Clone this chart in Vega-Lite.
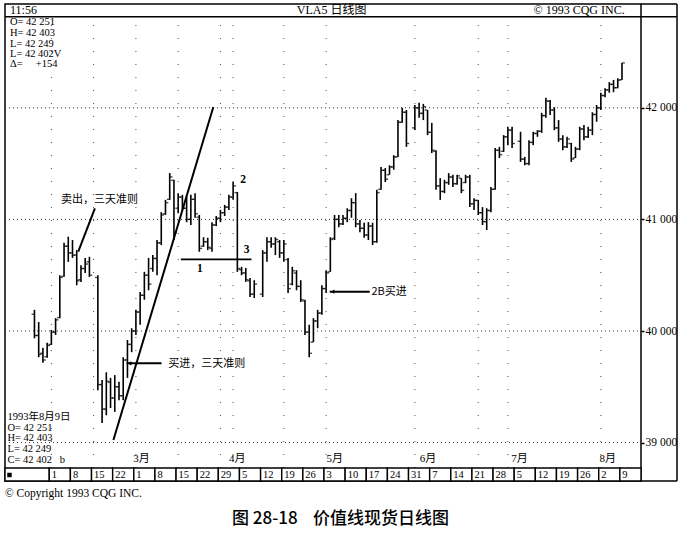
{
  "$schema": "https://vega.github.io/schema/vega-lite/v6.json",
  "autosize": {"type": "none"},
  "padding": {"left": 5, "top": 4, "right": 43, "bottom": 56},
  "width": 636,
  "height": 477,
  "background": "white",
  "config": {"view": {"stroke": "black", "strokeWidth": 1.5}},
  "datasets": {
    "bars": [
      {"i":-4,"o":40150,"h":40190,"l":39935,"c":39960},
      {"i":-3,"o":39960,"h":40080,"l":39765,"c":39790},
      {"i":-2,"o":39800,"h":39850,"l":39715,"c":39740},
      {"i":-1,"o":39770,"h":39895,"l":39760,"c":39870},
      {"i":0,"o":39880,"h":40010,"l":39875,"c":39990},
      {"i":1,"o":39990,"h":40115,"l":39965,"c":40100},
      {"i":2,"o":40120,"h":40500,"l":40115,"c":40480},
      {"i":3,"o":40490,"h":40790,"l":40485,"c":40760},
      {"i":4,"o":40760,"h":40845,"l":40620,"c":40700},
      {"i":5,"o":40700,"h":40815,"l":40655,"c":40680},
      {"i":6,"o":40680,"h":40725,"l":40410,"c":40450},
      {"i":7,"o":40460,"h":40590,"l":40440,"c":40560},
      {"i":8,"o":40560,"h":40655,"l":40520,"c":40600},
      {"i":9,"o":40620,"h":40665,"l":40485,"c":40500},
      {"i":11,"o":40480,"h":40500,"l":39470,"c":39520},
      {"i":12,"o":39520,"h":39560,"l":39175,"c":39300},
      {"i":13,"o":39300,"h":39630,"l":39245,"c":39550},
      {"i":14,"o":39540,"h":39580,"l":39310,"c":39400},
      {"i":15,"o":39400,"h":39605,"l":39275,"c":39500},
      {"i":16,"o":39500,"h":39545,"l":39380,"c":39420},
      {"i":17,"o":39420,"h":39765,"l":39380,"c":39740},
      {"i":18,"o":39740,"h":39920,"l":39580,"c":39880},
      {"i":19,"o":39880,"h":40025,"l":39810,"c":40000},
      {"i":20,"o":40000,"h":40190,"l":39965,"c":40170},
      {"i":21,"o":40170,"h":40350,"l":40055,"c":40320},
      {"i":22,"o":40320,"h":40530,"l":40280,"c":40500},
      {"i":23,"o":40500,"h":40655,"l":40365,"c":40420},
      {"i":24,"o":40560,"h":40680,"l":40530,"c":40650},
      {"i":25,"o":40650,"h":40815,"l":40500,"c":40790},
      {"i":26,"o":40790,"h":41065,"l":40770,"c":41040},
      {"i":27,"o":41050,"h":41175,"l":41040,"c":41150},
      {"i":28,"o":41180,"h":41415,"l":41175,"c":41380},
      {"i":29,"o":41350,"h":41355,"l":40815,"c":40880},
      {"i":30,"o":41100,"h":41235,"l":41055,"c":41200},
      {"i":31,"o":41200,"h":41220,"l":41085,"c":41100},
      {"i":32,"o":41100,"h":41200,"l":40975,"c":41000},
      {"i":33,"o":41000,"h":41220,"l":40950,"c":41180},
      {"i":34,"o":41180,"h":41235,"l":41015,"c":41050},
      {"i":35,"o":41020,"h":41040,"l":40710,"c":40740},
      {"i":36,"o":40760,"h":40840,"l":40755,"c":40800},
      {"i":37,"o":40800,"h":40835,"l":40725,"c":40750},
      {"i":38,"o":40740,"h":40975,"l":40710,"c":40950},
      {"i":39,"o":40950,"h":41030,"l":40940,"c":41010},
      {"i":40,"o":41010,"h":41085,"l":40975,"c":41060},
      {"i":41,"o":41060,"h":41130,"l":41030,"c":41110},
      {"i":42,"o":41110,"h":41220,"l":41085,"c":41200},
      {"i":43,"o":41200,"h":41335,"l":41175,"c":41300},
      {"i":44,"o":41240,"h":41245,"l":40530,"c":40560},
      {"i":45,"o":40550,"h":40575,"l":40500,"c":40520},
      {"i":46,"o":40520,"h":40565,"l":40440,"c":40460},
      {"i":47,"o":40450,"h":40475,"l":40305,"c":40330},
      {"i":48,"o":40330,"h":40455,"l":40295,"c":40420},
      {"i":50,"o":40330,"h":40725,"l":40305,"c":40700},
      {"i":51,"o":40700,"h":40840,"l":40620,"c":40800},
      {"i":52,"o":40800,"h":40840,"l":40745,"c":40780},
      {"i":53,"o":40780,"h":40840,"l":40680,"c":40820},
      {"i":54,"o":40800,"h":40815,"l":40655,"c":40700},
      {"i":55,"o":40700,"h":40815,"l":40620,"c":40780},
      {"i":56,"o":40640,"h":40655,"l":40340,"c":40380},
      {"i":57,"o":40420,"h":40575,"l":40410,"c":40540},
      {"i":58,"o":40520,"h":40545,"l":40365,"c":40400},
      {"i":59,"o":40400,"h":40455,"l":40260,"c":40280},
      {"i":60,"o":40270,"h":40280,"l":39965,"c":39990},
      {"i":61,"o":39990,"h":40055,"l":39765,"c":39800},
      {"i":62,"o":39900,"h":40115,"l":39900,"c":40090},
      {"i":63,"o":40090,"h":40190,"l":40025,"c":40160},
      {"i":64,"o":40160,"h":40410,"l":40145,"c":40380},
      {"i":65,"o":40380,"h":40545,"l":40340,"c":40520},
      {"i":66,"o":40530,"h":40840,"l":40530,"c":40820},
      {"i":67,"o":40830,"h":41040,"l":40815,"c":41000},
      {"i":68,"o":41000,"h":41040,"l":40930,"c":40960},
      {"i":69,"o":40960,"h":41040,"l":40950,"c":41010},
      {"i":70,"o":41010,"h":41100,"l":40975,"c":41080},
      {"i":71,"o":41080,"h":41190,"l":41015,"c":41150},
      {"i":72,"o":41150,"h":41235,"l":40930,"c":40960},
      {"i":73,"o":40960,"h":40995,"l":40885,"c":40920},
      {"i":74,"o":40920,"h":40970,"l":40835,"c":40860},
      {"i":75,"o":40860,"h":40975,"l":40815,"c":40940},
      {"i":76,"o":40940,"h":40970,"l":40770,"c":40800},
      {"i":77,"o":40800,"h":41265,"l":40790,"c":41240},
      {"i":78,"o":41270,"h":41470,"l":41265,"c":41440},
      {"i":79,"o":41440,"h":41460,"l":41335,"c":41360},
      {"i":80,"o":41400,"h":41485,"l":41400,"c":41470},
      {"i":81,"o":41470,"h":41575,"l":41445,"c":41560},
      {"i":82,"o":41560,"h":41890,"l":41560,"c":41870},
      {"i":83,"o":41870,"h":42000,"l":41865,"c":41960},
      {"i":84,"o":41960,"h":41980,"l":41650,"c":41680},
      {"i":86,"o":41820,"h":42025,"l":41800,"c":42000},
      {"i":87,"o":42000,"h":42045,"l":41910,"c":41950},
      {"i":88,"o":41950,"h":42035,"l":41890,"c":42010},
      {"i":89,"o":41980,"h":41980,"l":41755,"c":41780},
      {"i":90,"o":41780,"h":41865,"l":41595,"c":41620},
      {"i":91,"o":41610,"h":41620,"l":41265,"c":41300},
      {"i":92,"o":41300,"h":41370,"l":41175,"c":41250},
      {"i":93,"o":41250,"h":41355,"l":41235,"c":41330},
      {"i":94,"o":41330,"h":41415,"l":41310,"c":41380},
      {"i":95,"o":41380,"h":41400,"l":41290,"c":41320},
      {"i":96,"o":41320,"h":41400,"l":41310,"c":41390},
      {"i":97,"o":41370,"h":41370,"l":41235,"c":41260},
      {"i":98,"o":41330,"h":41400,"l":41325,"c":41380},
      {"i":99,"o":41380,"h":41400,"l":41110,"c":41140},
      {"i":100,"o":41140,"h":41190,"l":41085,"c":41170},
      {"i":101,"o":41170,"h":41175,"l":41040,"c":41060},
      {"i":102,"o":41060,"h":41110,"l":40950,"c":40980},
      {"i":103,"o":40980,"h":41100,"l":40905,"c":41080},
      {"i":104,"o":41080,"h":41290,"l":41065,"c":41270},
      {"i":105,"o":41270,"h":41640,"l":41265,"c":41620},
      {"i":106,"o":41620,"h":41650,"l":41550,"c":41580},
      {"i":107,"o":41610,"h":41755,"l":41605,"c":41740},
      {"i":108,"o":41740,"h":41830,"l":41665,"c":41800},
      {"i":109,"o":41800,"h":41830,"l":41640,"c":41680},
      {"i":111,"o":41700,"h":41785,"l":41515,"c":41540},
      {"i":112,"o":41540,"h":41560,"l":41485,"c":41500},
      {"i":113,"o":41500,"h":41710,"l":41485,"c":41690},
      {"i":114,"o":41690,"h":41785,"l":41665,"c":41770},
      {"i":115,"o":41770,"h":41800,"l":41740,"c":41790},
      {"i":116,"o":41790,"h":41955,"l":41775,"c":41930},
      {"i":117,"o":41930,"h":42090,"l":41910,"c":42060},
      {"i":118,"o":42060,"h":42070,"l":41935,"c":41980},
      {"i":119,"o":41980,"h":42005,"l":41800,"c":41820},
      {"i":120,"o":41820,"h":41890,"l":41695,"c":41720},
      {"i":121,"o":41720,"h":41755,"l":41620,"c":41650},
      {"i":122,"o":41650,"h":41740,"l":41640,"c":41720},
      {"i":123,"o":41680,"h":41685,"l":41515,"c":41540},
      {"i":124,"o":41550,"h":41650,"l":41550,"c":41630},
      {"i":125,"o":41630,"h":41830,"l":41620,"c":41810},
      {"i":126,"o":41810,"h":41845,"l":41710,"c":41740},
      {"i":127,"o":41740,"h":41830,"l":41730,"c":41800},
      {"i":128,"o":41800,"h":41960,"l":41755,"c":41940},
      {"i":129,"o":41940,"h":42025,"l":41875,"c":42000},
      {"i":130,"o":42000,"h":42135,"l":41980,"c":42110},
      {"i":131,"o":42110,"h":42175,"l":42095,"c":42160},
      {"i":132,"o":42160,"h":42230,"l":42135,"c":42210},
      {"i":133,"o":42210,"h":42250,"l":42140,"c":42180},
      {"i":134,"o":42180,"h":42265,"l":42175,"c":42248},
      {"i":135,"o":42251,"h":42403,"l":42249,"c":42402}
    ],
    "weeks": [
      {"s":-10.97,"e":-0.5,"lab":""},
      {"s":-0.5,"e":4.5,"lab":"1"},
      {"s":4.5,"e":9.5,"lab":"8"},
      {"s":9.5,"e":14.5,"lab":"15"},
      {"s":14.5,"e":19.5,"lab":"22"},
      {"s":19.5,"e":24.5,"lab":"1"},
      {"s":24.5,"e":29.5,"lab":"8"},
      {"s":29.5,"e":34.5,"lab":"15"},
      {"s":34.5,"e":39.5,"lab":"22"},
      {"s":39.5,"e":44.5,"lab":"29"},
      {"s":44.5,"e":49.5,"lab":"5"},
      {"s":49.5,"e":54.5,"lab":"12"},
      {"s":54.5,"e":59.5,"lab":"19"},
      {"s":59.5,"e":64.5,"lab":"26"},
      {"s":64.5,"e":69.5,"lab":"3"},
      {"s":69.5,"e":74.5,"lab":"10"},
      {"s":74.5,"e":79.5,"lab":"17"},
      {"s":79.5,"e":84.5,"lab":"24"},
      {"s":84.5,"e":89.5,"lab":"31"},
      {"s":89.5,"e":94.5,"lab":"7"},
      {"s":94.5,"e":99.5,"lab":"14"},
      {"s":99.5,"e":104.5,"lab":"21"},
      {"s":104.5,"e":109.5,"lab":"28"},
      {"s":109.5,"e":114.5,"lab":"5"},
      {"s":114.5,"e":119.5,"lab":"12"},
      {"s":119.5,"e":124.5,"lab":"19"},
      {"s":124.5,"e":129.5,"lab":"26"},
      {"s":129.5,"e":134.5,"lab":"2"},
      {"s":134.5,"e":139.5,"lab":"9"}
    ]
  },
  "layer": [
    {
      "data": {"values": [{"v":39000},{"v":40000},{"v":41000},{"v":42000}]},
      "mark": {"type": "rule", "strokeDash": [1, 3], "color": "#333", "strokeWidth": 1},
      "encoding": {
        "x": {"datum": -10.97, "type": "quantitative", "scale": {"domain": [-10.97, 139.5], "zero": false, "nice": false}, "axis": null},
        "x2": {"datum": 139.5},
        "y": {"field": "v", "type": "quantitative", "scale": {"domain": [38656, 42930], "zero": false, "nice": false},
          "axis": {"orient": "right", "values": [39000, 40000, 41000, 42000],
            "labelExpr": "replace(format(datum.value, ','), ',', ' ')", "domain": false, "ticks": true, "tickSize": 3, "tickWidth": 1.5,
            "tickColor": "black", "labelPadding": 1, "labelFont": "Liberation Serif", "labelFontSize": 11.5,
            "labelColor": "black", "grid": false, "title": null}}
      }
    },
    {
      "data": {"values": [{"i":0},{"i":10},{"i":20},{"i":30},{"i":40},{"i":43},{"i":55},{"i":65},{"i":86},{"i":101},{"i":108},{"i":130}]},
      "mark": {"type": "rule", "strokeDash": [1, 12], "color": "#444", "strokeWidth": 1},
      "encoding": {
        "x": {"field": "i", "type": "quantitative", "scale": {"domain": [-10.97, 139.5], "zero": false, "nice": false}, "axis": null},
        "y": {"datum": 38772, "type": "quantitative", "scale": {"domain": [38656, 42930], "zero": false, "nice": false}, "title": null},
        "y2": {"datum": 42816}
      }
    },
    {
      "data": {"name": "bars"},
      "mark": {"type": "rule", "color": "black", "strokeWidth": 1.6},
      "encoding": {
        "x": {"field": "i", "type": "quantitative", "scale": {"domain": [-10.97, 139.5], "zero": false, "nice": false}, "axis": null},
        "y": {"field": "h", "type": "quantitative", "scale": {"domain": [38656, 42930], "zero": false, "nice": false}, "title": null},
        "y2": {"field": "l"}
      }
    },
    {
      "data": {"name": "bars"},
      "mark": {"type": "tick", "orient": "horizontal", "size": 2.5, "thickness": 1.4, "xOffset": -1.6, "color": "black"},
      "encoding": {
        "x": {"field": "i", "type": "quantitative", "scale": {"domain": [-10.97, 139.5], "zero": false, "nice": false}, "axis": null},
        "y": {"field": "o", "type": "quantitative", "scale": {"domain": [38656, 42930], "zero": false, "nice": false}, "title": null}
      }
    },
    {
      "data": {"name": "bars"},
      "mark": {"type": "tick", "orient": "horizontal", "size": 2.5, "thickness": 1.4, "xOffset": 1.6, "color": "black"},
      "encoding": {
        "x": {"field": "i", "type": "quantitative", "scale": {"domain": [-10.97, 139.5], "zero": false, "nice": false}, "axis": null},
        "y": {"field": "c", "type": "quantitative", "scale": {"domain": [38656, 42930], "zero": false, "nice": false}, "title": null}
      }
    },
    {
      "data": {"name": "weeks"},
      "mark": {"type": "rect", "fill": "white", "stroke": "black", "strokeWidth": 1.4},
      "encoding": {
        "x": {"field": "s", "type": "quantitative", "scale": {"domain": [-10.97, 139.5], "zero": false, "nice": false}, "axis": null},
        "x2": {"field": "e"},
        "y": {"datum": 38656, "type": "quantitative", "scale": {"domain": [38656, 42930], "zero": false, "nice": false}, "title": null},
        "y2": {"datum": 38772}
      }
    },
    {
      "data": {"name": "weeks"},
      "mark": {"type": "text", "align": "left", "baseline": "alphabetic", "dx": 2.5, "font": "Liberation Serif", "fontSize": 10.5, "color": "black"},
      "encoding": {
        "x": {"field": "s", "type": "quantitative", "scale": {"domain": [-10.97, 139.5], "zero": false, "nice": false}, "axis": null},
        "y": {"datum": 38683, "type": "quantitative", "scale": {"domain": [38656, 42930], "zero": false, "nice": false}, "title": null},
        "text": {"field": "lab"}
      }
    },
    {
      "data": {"values": [{"x": -9.91, "y": 38710}]},
      "mark": {"type": "point", "shape": "square", "size": 20, "filled": true, "color": "black", "opacity": 1},
      "encoding": {
        "x": {"field": "x", "type": "quantitative", "scale": {"domain": [-10.97, 139.5], "zero": false, "nice": false}, "axis": null},
        "y": {"field": "y", "type": "quantitative", "scale": {"domain": [38656, 42930], "zero": false, "nice": false}, "title": null}
      }
    },
    {
      "data": {"values": [
        {"x": -10.97, "x2": 148.02, "y": 42816, "y2": 42816},
        {"x": 139.5, "x2": 148.02, "y": 42930, "y2": 42930},
        {"x": 139.5, "x2": 148.02, "y": 38656, "y2": 38656},
        {"x": 148.02, "x2": 148.02, "y": 38656, "y2": 42930}
      ]},
      "mark": {"type": "rule", "color": "black", "strokeWidth": 1.5},
      "encoding": {
        "x": {"field": "x", "type": "quantitative", "scale": {"domain": [-10.97, 139.5], "zero": false, "nice": false}, "axis": null},
        "x2": {"field": "x2"},
        "y": {"field": "y", "type": "quantitative", "scale": {"domain": [38656, 42930], "zero": false, "nice": false}, "title": null},
        "y2": {"field": "y2"}
      }
    },
    {
      "data": {"values": [
        {"x": 14.68, "y": 39023, "x2": 38.32, "y2": 42007},
        {"x": 10.30, "y": 41099, "x2": 6.36, "y2": 40711},
        {"x": 17.8, "y": 39711, "x2": 26.07, "y2": 39711},
        {"x": 65.86, "y": 40352, "x2": 75.32, "y2": 40352}
      ]},
      "mark": {"type": "rule", "color": "black", "strokeWidth": 2},
      "encoding": {
        "x": {"field": "x", "type": "quantitative", "scale": {"domain": [-10.97, 139.5], "zero": false, "nice": false}, "axis": null},
        "x2": {"field": "x2"},
        "y": {"field": "y", "type": "quantitative", "scale": {"domain": [38656, 42930], "zero": false, "nice": false}, "title": null},
        "y2": {"field": "y2"}
      }
    },
    {
      "data": {"values": [{"x": 30.63, "x2": 47.35, "y": 40642}]},
      "mark": {"type": "rule", "color": "black", "strokeWidth": 1.6},
      "encoding": {
        "x": {"field": "x", "type": "quantitative", "scale": {"domain": [-10.97, 139.5], "zero": false, "nice": false}, "axis": null},
        "x2": {"field": "x2"},
        "y": {"field": "y", "type": "quantitative", "scale": {"domain": [38656, 42930], "zero": false, "nice": false}, "title": null}
      }
    },
    {
      "data": {"values": [{"x": 18.5, "y": 39711}, {"x": 66.55, "y": 40352}]},
      "mark": {"type": "point", "shape": "triangle-left", "size": 18, "filled": true, "color": "black", "opacity": 1},
      "encoding": {
        "x": {"field": "x", "type": "quantitative", "scale": {"domain": [-10.97, 139.5], "zero": false, "nice": false}, "axis": null},
        "y": {"field": "y", "type": "quantitative", "scale": {"domain": [38656, 42930], "zero": false, "nice": false}, "title": null}
      }
    },
    {
      "data": {"values": [
        {"x": -9.79, "y": 42836, "t": "11:56"},
        {"x": 58.06, "y": 42836, "t": "VLA5 日线图"},
        {"x": 114.08, "y": 42836, "t": "© 1993 CQG INC."}
      ]},
      "mark": {"type": "text", "align": "left", "baseline": "alphabetic", "font": "Liberation Serif, Noto Sans CJK SC", "fontSize": 12, "color": "black"},
      "encoding": {
        "x": {"field": "x", "type": "quantitative", "scale": {"domain": [-10.97, 139.5], "zero": false, "nice": false}, "axis": null},
        "y": {"field": "y", "type": "quantitative", "scale": {"domain": [38656, 42930], "zero": false, "nice": false}, "title": null},
        "text": {"field": "t"}
      }
    },
    {
      "data": {"values": [
        {"x": -9.79, "y": 42767, "t": "O= 42 251"},
        {"x": -9.79, "y": 42670, "t": "H= 42 403"},
        {"x": -9.79, "y": 42576, "t": "L= 42 249"},
        {"x": -9.79, "y": 42482, "t": "L= 42 402V"},
        {"x": -9.79, "y": 42388, "t": "Δ=\u00a0\u00a0\u00a0\u00a0\u00a0+154"},
        {"x": -10.38, "y": 39230, "t": "1993年8月9日"},
        {"x": -10.38, "y": 39134, "t": "O= 42 251"},
        {"x": -10.38, "y": 39039, "t": "H= 42 403"},
        {"x": -10.38, "y": 38943, "t": "L= 42 249"},
        {"x": -10.38, "y": 38847, "t": "C= 42 402\u00a0\u00a0\u00a0b"}
      ]},
      "mark": {"type": "text", "align": "left", "baseline": "middle", "font": "Liberation Serif, Noto Sans CJK SC", "fontSize": 10.5, "color": "black"},
      "encoding": {
        "x": {"field": "x", "type": "quantitative", "scale": {"domain": [-10.97, 139.5], "zero": false, "nice": false}, "axis": null},
        "y": {"field": "y", "type": "quantitative", "scale": {"domain": [38656, 42930], "zero": false, "nice": false}, "title": null},
        "text": {"field": "t"}
      }
    },
    {
      "data": {"values": [
        {"x": 21.34, "t": "3月"},
        {"x": 43.99, "t": "4月"},
        {"x": 67.04, "t": "5月"},
        {"x": 89.1, "t": "6月"},
        {"x": 110.77, "t": "7月"},
        {"x": 131.65, "t": "8月"}
      ]},
      "mark": {"type": "text", "align": "center", "baseline": "middle", "font": "Liberation Serif, Noto Sans CJK SC", "fontSize": 11, "color": "black"},
      "encoding": {
        "x": {"field": "x", "type": "quantitative", "scale": {"domain": [-10.97, 139.5], "zero": false, "nice": false}, "axis": null},
        "y": {"datum": 38857, "type": "quantitative", "scale": {"domain": [38656, 42930], "zero": false, "nice": false}, "title": null},
        "text": {"field": "t"}
      }
    },
    {
      "data": {"values": [
        {"x": 2.27, "y": 41174, "t": "卖出，三天准则"},
        {"x": 27.63, "y": 39704, "t": "买进，三天准则"},
        {"x": 75.72, "y": 40347, "t": "2B买进"}
      ]},
      "mark": {"type": "text", "align": "left", "baseline": "middle", "font": "Noto Sans CJK SC", "fontSize": 11, "color": "black"},
      "encoding": {
        "x": {"field": "x", "type": "quantitative", "scale": {"domain": [-10.97, 139.5], "zero": false, "nice": false}, "axis": null},
        "y": {"field": "y", "type": "quantitative", "scale": {"domain": [38656, 42930], "zero": false, "nice": false}, "title": null},
        "text": {"field": "t"}
      }
    },
    {
      "data": {"values": [
        {"x": 35.13, "y": 40553, "t": "1"},
        {"x": 45.36, "y": 41353, "t": "2"},
        {"x": 46.17, "y": 40726, "t": "3"}
      ]},
      "mark": {"type": "text", "align": "center", "baseline": "middle", "font": "Liberation Serif", "fontSize": 11.5, "fontWeight": "bold", "color": "black"},
      "encoding": {
        "x": {"field": "x", "type": "quantitative", "scale": {"domain": [-10.97, 139.5], "zero": false, "nice": false}, "axis": null},
        "y": {"field": "y", "type": "quantitative", "scale": {"domain": [38656, 42930], "zero": false, "nice": false}, "title": null},
        "text": {"field": "t"}
      }
    },
    {
      "data": {"values": [{"x": -10.97, "y": 38537, "t": "© Copyright 1993 CQG INC."}]},
      "mark": {"type": "text", "align": "left", "baseline": "middle", "font": "Liberation Serif", "fontSize": 11.5, "color": "black"},
      "encoding": {
        "x": {"field": "x", "type": "quantitative", "scale": {"domain": [-10.97, 139.5], "zero": false, "nice": false}, "axis": null},
        "y": {"field": "y", "type": "quantitative", "scale": {"domain": [38656, 42930], "zero": false, "nice": false}, "title": null},
        "text": {"field": "t"}
      }
    },
    {
      "data": {"values": [{"x": 68.41, "y": 38315, "t": "图 28-18\u00a0\u00a0\u00a0\u00a0价值线现货日线图"}]},
      "mark": {"type": "text", "align": "center", "baseline": "middle", "font": "Noto Sans CJK SC", "fontSize": 17, "fontWeight": 500, "color": "black"},
      "encoding": {
        "x": {"field": "x", "type": "quantitative", "scale": {"domain": [-10.97, 139.5], "zero": false, "nice": false}, "axis": null},
        "y": {"field": "y", "type": "quantitative", "scale": {"domain": [38656, 42930], "zero": false, "nice": false}, "title": null},
        "text": {"field": "t"}
      }
    }
  ]
}
